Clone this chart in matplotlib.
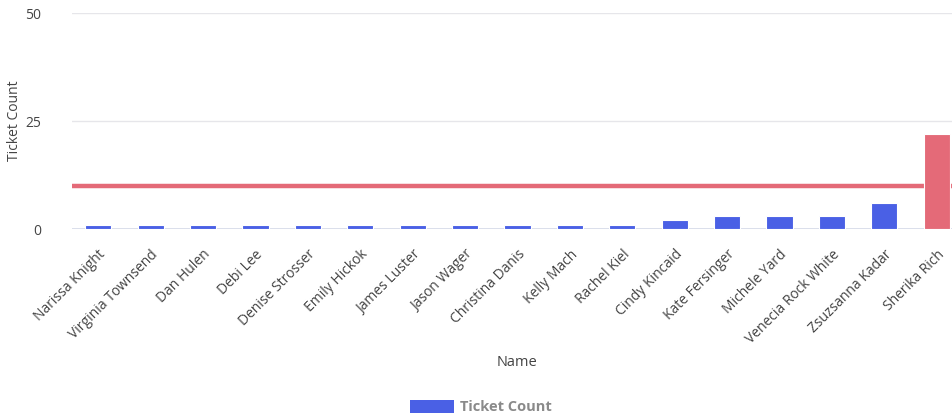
import matplotlib
matplotlib.use("Agg")
import matplotlib.pyplot as plt
from matplotlib.patches import Patch

names = ["Narissa Knight", "Virginia Townsend", "Dan Hulen", "Debi Lee", "Denise Strosser",
         "Emily Hickok", "James Luster", "Jason Wager", "Christina Danis", "Kelly Mach",
         "Rachel Kiel", "Cindy Kincaid", "Kate Fersinger", "Michele Yard", "Venecia Rock White",
         "Zsuzsanna Kadar", "Sherika Rich"]
ticket_count = [1, 1, 1, 1, 1, 1, 1, 1, 1, 1, 1, 2, 3, 3, 3, 6, 22]
threshold = 10
y_ticks = [0, 25, 50]

blue = "#4A60E5"
red = "#E46A78"

plt.rcParams['font.family'] = ['Open Sans', 'DejaVu Sans']

fig = plt.figure(figsize=(9.52, 4.19), dpi=100)
W, H = 952, 419
left, right = 72, 963
top, bottom = 13, 229
ax = fig.add_axes([left / W, (H - bottom) / H, (right - left) / W, (bottom - top) / H])

colors = [red if v > threshold else blue for v in ticket_count]
x = list(range(len(names)))
ax.axhline(threshold, color=red, lw=3.2, zorder=2)
ax.bar(x, ticket_count, width=0.5, color=colors, edgecolor="white", linewidth=0.8, zorder=3)

ax.set_xlim(-0.5, len(names) - 0.5)
ax.set_ylim(0, 50)
ax.set_yticks(y_ticks)
ax.yaxis.grid(True, color="#E6E6EA", lw=1)
ax.set_axisbelow(True)
for s in ax.spines.values():
    s.set_visible(False)
ax.axhline(0, color="#D5DAE8", lw=1.2, zorder=1)
ax.tick_params(axis="both", length=0, colors="#444444", labelsize=10)
ax.tick_params(axis="y", pad=22)
ax.set_xticks(x)
ax.set_xticklabels(names, rotation=45, ha="right", rotation_mode="anchor", color="#444444")
ax.tick_params(axis="x", pad=13)

fig.text(15 / W, (H - 121) / H, "Ticket Count", rotation=90, ha="center", va="center",
         fontsize=10, color="#444444")
fig.text(517 / W, (H - 362) / H, "Name", ha="center", va="center", fontsize=10.5, color="#444444")

leg = fig.legend(handles=[Patch(facecolor=blue, edgecolor="none", label="Ticket Count")],
                 loc="center", bbox_to_anchor=(481 / W, (H - 407) / H), frameon=False,
                 handlelength=3.0, handleheight=1.0, handletextpad=0.4, fontsize=10.5)
for t in leg.get_texts():
    t.set_color("#8A8A8A")
    t.set_fontweight("bold")

fig.savefig("out.png", dpi=100)
